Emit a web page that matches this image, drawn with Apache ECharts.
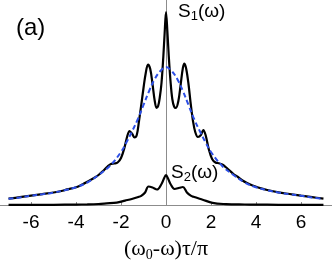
<!DOCTYPE html>
<html>
<head>
<meta charset="utf-8">
<script src="https://cdn.jsdelivr.net/npm/echarts@6/dist/echarts.min.js"></script>
<style>
html,body{margin:0;padding:0;background:#fff;}
#chart{width:332px;height:267px;}
</style>
</head>
<body>
<div id="chart"></div>
<script>
// S1(omega): black solid curve
const s1X = [-7.0,-6.5,-6.0,-5.5,-5.0,-4.6,-4.4,-4.0,-3.7,-3.5,-3.2,-3.0,-2.8,-2.6,-2.45,-2.3,-2.15,-2.0,-1.85,-1.72,-1.62,-1.5,-1.4,-1.3,-1.2,-1.1,-1.0,-0.9,-0.8,-0.7,-0.6,-0.5,-0.42,-0.35,-0.28,-0.2,-0.12,-0.06,0,
             0.06,0.12,0.2,0.28,0.36,0.44,0.55,0.65,0.75,0.82,0.9,1.0,1.1,1.2,1.3,1.42,1.55,1.66,1.76,1.9,2.05,2.2,2.35,2.5,2.65,2.8,3.0,3.2,3.4,3.6,3.85,4.1,4.5,5.0,5.5,6.0,6.5,7.0];
const s1Y = [6.3,7.8,9.4,10.9,12.5,14.3,15.6,17.8,20.8,23.2,27,30,34,38.5,41,41.5,42.5,47,57,69,74,71,67.5,70,84,100,117,132,140.5,136,121,104,97,99,107,122,148,172,193,
             174,150,124,106,98.5,97,104,120,137,141.5,136,121,101,84,73,68,70,75,70,56,46,42.5,41.8,40.5,38,35,31,28,24.5,22,19.5,17.5,15,12.6,11,9.4,7.9,6.3];
// Lorentzian envelope: blue dashed curve
const lorX = [-7.0,-6.5,-6.0,-5.5,-5.0,-4.5,-4.0,-3.5,-3.0,-2.5,-2.0,-1.75,-1.5,-1.25,-1.0,-0.75,-0.5,-0.25,0,0.25,0.5,0.75,1.0,1.25,1.5,1.75,2.0,2.5,3.0,3.5,4.0,4.5,5.0,5.5,6.0,6.5,7.0];
const lorY = [6.2,7.5,9.3,10.7,12.4,14.8,17.8,22.5,30,39,53,63,74,86,100,114,126,134,138,134,126,114,100,86,74,63,53,39,30,22.5,17.8,14.8,12.4,10.7,9.3,7.5,6.2];
// S2(omega): lower black curve
const s2X = [-7.0,-6.0,-5.0,-4.0,-3.5,-3.0,-2.64,-2.19,-1.82,-1.52,-1.23,-1.1,-0.93,-0.78,-0.6,-0.4,-0.2,-0.1,0,0.1,0.2,0.38,0.6,0.75,0.93,1.1,1.22,1.63,2.07,2.67,3.0,3.5,4.0,5.0,6.0,7.0];
const s2Y = [0.1,0.1,0.2,0.4,0.6,1.0,1.6,2.4,4.4,6.0,8.0,9.2,12.5,18.5,17.5,15.5,21,26,30,26,21,16,17.2,18,12.5,9.3,8.2,5.3,2.2,0.8,0.6,0.5,0.4,0.2,0.1,0.1];
const xTicks = [-6,-4,-2,0,2,4,6];

const pairs = (xs, ys) => xs.map((x, i) => [x, ys[i]]);
const SANS = 'Liberation Sans, Arial, sans-serif';
const SERIF = 'Liberation Serif, Times New Roman, serif';

const chart = echarts.init(document.getElementById('chart'), null, {renderer: 'canvas'});
chart.setOption({
  animation: false,
  backgroundColor: '#fff',
  grid: {left: 0, right: 0, top: 0, bottom: 62, containLabel: false},
  xAxis: {
    type: 'value', min: -7.38, max: 7.38,
    axisLine: {show: true, onZero: false, lineStyle: {color: '#8c8c8c', width: 1}},
    axisTick: {show: true, inside: true, length: 3, customValues: xTicks, lineStyle: {color: '#8c8c8c'}},
    axisLabel: {show: true, customValues: xTicks, margin: 8, color: '#000', fontSize: 19, fontFamily: SANS},
    splitLine: {show: false},
    name: '{a|(ω}{b|0}{a|-ω)τ/π}',
    nameLocation: 'middle', nameGap: 31,
    nameTextStyle: {
      color: '#000', fontFamily: SERIF,
      rich: {
        a: {fontSize: 22, lineHeight: 26, fontFamily: SERIF, color: '#000'},
        b: {fontSize: 14, lineHeight: 14, verticalAlign: 'bottom', fontFamily: SERIF, color: '#000'}
      }
    }
  },
  yAxis: {
    type: 'value', min: 0, max: 205,
    axisLine: {show: true, onZero: true, lineStyle: {color: '#8c8c8c', width: 1}},
    axisTick: {show: false}, axisLabel: {show: false}, splitLine: {show: false}
  },
  series: [
    {type: 'line', data: pairs(s1X, s1Y), smooth: 0.35, showSymbol: false, lineStyle: {color: '#000', width: 2.2}, z: 2},
    {type: 'line', data: pairs(s2X, s2Y), smooth: 0.35, showSymbol: false, lineStyle: {color: '#000', width: 2.2}, z: 2},
    {type: 'line', data: pairs(lorX, lorY), smooth: 0.4, showSymbol: false, lineStyle: {color: '#2d4fe6', width: 2, type: [5, 3]}, z: 3}
  ],
  graphic: [
    {type: 'text', left: 16, top: 16, style: {text: '(a)', fontSize: 24, fontFamily: SANS, fill: '#000'}},
    {type: 'text', left: 178, top: 2, style: {
      text: '{a|S}{b|1}{a|(ω)}',
      rich: {
        a: {fontSize: 19, lineHeight: 23, fontFamily: SANS, fill: '#000'},
        b: {fontSize: 13, lineHeight: 13, verticalAlign: 'bottom', fontFamily: SANS, fill: '#000'}
      }}},
    {type: 'text', left: 171, top: 163, style: {
      text: '{a|S}{b|2}{a|(ω)}',
      rich: {
        a: {fontSize: 19, lineHeight: 23, fontFamily: SANS, fill: '#000'},
        b: {fontSize: 13, lineHeight: 13, verticalAlign: 'bottom', fontFamily: SANS, fill: '#000'}
      }}}
  ]
});
</script>
</body>
</html>
